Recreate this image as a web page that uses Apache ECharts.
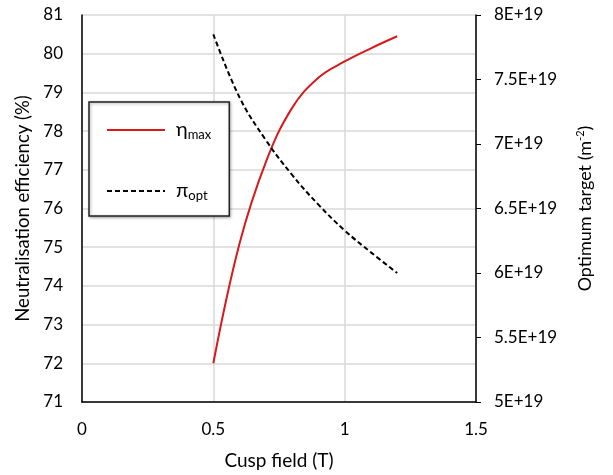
<!DOCTYPE html>
<html><head><meta charset="utf-8">
<script src="https://cdn.jsdelivr.net/npm/echarts@6/dist/echarts.min.js"></script>
<style>html,body{margin:0;padding:0;background:#fff}#c{width:613px;height:475px}</style>
</head><body><div id="c"></div>
<script>
const cuspField = [0.5, 0.6, 0.7, 0.8, 0.9, 1.0, 1.1, 1.2];
const etaMax = [72.0, 75.1, 77.2, 78.6, 79.38, 79.8, 80.14, 80.45];
const piOpt = [7.85e19, 7.36e19, 7.03e19, 6.76e19, 6.53e19, 6.33e19, 6.16e19, 6.0e19];
const xTicks = ['0', '0.5', '1', '1.5'];
const rightTicks = {5e19:'5E+19',5.5e19:'5.5E+19',6e19:'6E+19',6.5e19:'6.5E+19',7e19:'7E+19',7.5e19:'7.5E+19',8e19:'8E+19'};

const FONT = 'Lato';
const chart = echarts.init(document.getElementById('c'));
chart.setOption({
  animation: false,
  textStyle: {fontFamily: FONT},
  grid: {left: 82, right: 137, top: 15, bottom: 73},
  legend: {
    orient: 'vertical', left: 89, top: 102,
    padding: [18, 18, 14, 17], itemGap: 40, itemWidth: 58, itemHeight: 14,
    backgroundColor: '#fff', borderColor: '#222', borderWidth: 1.5,
    shadowColor: 'rgba(0,0,0,0.35)', shadowBlur: 3, shadowOffsetX: 1, shadowOffsetY: 1,
    itemStyle: {opacity: 0},
    data: ['ηmax', 'πopt'],
    formatter: n => n === 'ηmax' ? '{a|η}{b|max}' : '{a|π}{b|opt}',
    textStyle: {
      color: '#000',
      rich: {
        a: {fontSize: 20, fontFamily: FONT, color: '#000', padding: [0, 0, 0, 6]},
        b: {fontSize: 13, fontFamily: FONT, color: '#000', padding: [9, 0, 0, 0]}
      }
    }
  },
  xAxis: {
    type: 'value', min: 0, max: 1.5, interval: 0.5,
    name: 'Cusp field (T)', nameLocation: 'middle', nameGap: 49,
    nameTextStyle: {fontSize: 19, color: '#000', fontFamily: FONT},
    axisLine: {lineStyle: {color: '#000', width: 1.5}},
    axisTick: {show: false},
    axisLabel: {fontSize: 17, color: '#000', margin: 19, formatter: v => xTicks[Math.round(v / 0.5)]},
    splitLine: {lineStyle: {color: '#d9d9d9', width: 1.5}}
  },
  yAxis: [{
    type: 'value', min: 71, max: 81, interval: 1,
    name: 'Neutralisation efficiency (%)', nameLocation: 'middle', nameGap: 42,
    nameTextStyle: {fontSize: 18.5, color: '#000', fontFamily: FONT},
    axisLine: {show: true, lineStyle: {color: '#000', width: 1.5}},
    axisTick: {show: false},
    axisLabel: {fontSize: 17, color: '#000', margin: 19},
    splitLine: {lineStyle: {color: '#d9d9d9', width: 1.5}}
  }, {
    type: 'value', min: 5e19, max: 8e19, interval: 0.5e19, position: 'right',
    name: '{a|Optimum target (m}{b|-2}{a|)}', nameLocation: 'middle', nameGap: 99,
    nameRotate: 90,
    nameTextStyle: {rich: {a: {fontSize: 18, color: '#000', fontFamily: FONT}, b: {fontSize: 11, color: '#000', fontFamily: FONT, padding: [0, 0, 9, 0]}}},
    axisLine: {show: true, lineStyle: {color: '#000', width: 1.5}},
    axisTick: {show: true, length: 5, lineStyle: {color: '#000'}},
    axisLabel: {fontSize: 17, color: '#000', margin: 18, formatter: v => rightTicks[Math.round(v / 1e18) * 1e18] || ''},
    splitLine: {show: false}
  }],
  series: [{
    name: 'ηmax', type: 'line', yAxisIndex: 0, smooth: 0.4, symbol: 'none',
    data: cuspField.map((x, i) => [x, etaMax[i]]),
    lineStyle: {color: '#d7191c', width: 2}, itemStyle: {color: '#d7191c'}
  }, {
    name: 'πopt', type: 'line', yAxisIndex: 1, smooth: 0.4, symbol: 'none',
    data: cuspField.map((x, i) => [x, piOpt[i]]),
    lineStyle: {color: '#000', width: 2, type: [5, 3]}, itemStyle: {color: '#000'}
  }]
});
</script></body></html>
